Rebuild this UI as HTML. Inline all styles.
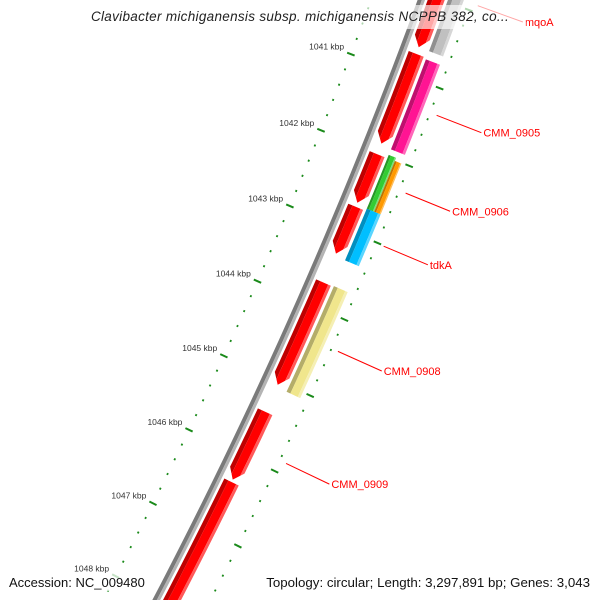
<!DOCTYPE html>
<html><head><meta charset="utf-8"><style>
html,body{margin:0;padding:0;background:#fff;overflow:hidden;width:600px;height:600px}
svg{display:block;overflow:hidden}
text{font-family:"Liberation Sans",sans-serif}
</style></head><body>
<svg id="map" width="600" height="600" viewBox="0 0 600 600" xmlns="http://www.w3.org/2000/svg">
<g id="ruler"></g>
<g id="backbone"></g>
<g id="features"></g>
<g id="labels"></g>
<rect x="74" y="5" width="452" height="24" fill="#fff" opacity="0.65"/>
<text x="300" y="21" text-anchor="middle" font-size="13.5" font-style="italic" fill="#222" letter-spacing="0.3">Clavibacter michiganensis subsp. michiganensis NCPPB 382, co...</text>
<rect x="6" y="573" width="141" height="18" fill="#fff" opacity="0.75"/>
<rect x="259" y="573" width="335" height="18" fill="#fff" opacity="0.75"/>
<text x="9" y="587" font-size="13" fill="#111">Accession: NC_009480</text>
<text x="590" y="587" text-anchor="end" font-size="13.3" fill="#111">Topology: circular; Length: 3,297,891 bp; Genes: 3,043</text>
</svg>
<script>
// ---- data ----
const featNames = ["gene-1","gene-2","gene-3","gene-4","gene-5","CMM_0909","gene-7","mqoA","CMM_0905","CMM_0906-a","CMM_0906-b","tdkA","CMM_0908"];
const featStartKbp = [1039.0,1040.715,1042.014,1042.70,1043.694,1045.405,1046.345,1039.2,1040.736,1041.97,1042.01,1042.67,1043.683];
const featEndKbp   = [1040.63,1041.877,1042.648,1043.313,1045.046,1046.313,1050.0,1040.63,1041.898,1042.67,1042.67,1043.345,1045.078];
const featRing     = [1,1,1,1,1,1,1,2,2,2,2,2,2];
const featColor    = ["#ff0000","#ff0000","#ff0000","#ff0000","#ff0000","#ff0000","#ff0000","#c0c0c0","#ff1493","#33cc33","#ff9900","#00bfff","#f0e68c"];
const labelText    = ["mqoA","CMM_0905","CMM_0906","tdkA","CMM_0908","CMM_0909"];
const labelFeature = [7,8,9,11,12,5];
const tickKbp      = [1040,1041,1042,1043,1044,1045,1046,1047,1048,1049];
const tickLabels   = ["1040 kbp","1041 kbp","1042 kbp","1043 kbp","1044 kbp","1045 kbp","1046 kbp","1047 kbp","1048 kbp","1049 kbp"];

// ---- geometry ----
const CX=-4275, CY=-1716, R=5000;
const A0=20.94, DEG_PER_KBP=0.9467;
function ang(kbp){return (A0+(kbp-1041)*DEG_PER_KBP)*Math.PI/180;}
function pt(r,a){return [CX+r*Math.cos(a), CY+r*Math.sin(a)];}
const NS="http://www.w3.org/2000/svg";
function mk(tag,attrs,parent){const e=document.createElementNS(NS,tag);for(const k in attrs)e.setAttribute(k,attrs[k]);parent.appendChild(e);return e;}
function arcPts(r,a1,a2,n){const p=[];for(let i=0;i<=n;i++){p.push(pt(r,a1+(a2-a1)*i/n));}return p;}
function P(p){return p.map(q=>q[0].toFixed(2)+","+q[1].toFixed(2)).join(" ");}

// ruler
const ruler=document.getElementById('ruler');
const rIn=4953, rOut=5048;
for(let k=Math.round(1038*5);k<=Math.round(1051*5);k++){
  const kb=k/5, a=ang(kb), major=(k%5===0);
  const half=major?4:0.9;
  [rIn,rOut].forEach((rr,j)=>{
    const p1=pt(rr-half,a), p2=pt(rr+half,a);
    const l=mk('line',{x1:p1[0],y1:p1[1],x2:p2[0],y2:p2[1],stroke:'#1a8a1a','stroke-width':2},ruler);
    
    
  });
}
tickKbp.forEach((kb,i)=>{
  const p=pt(rIn-4,ang(kb));
  const t=mk('text',{x:p[0]-3,y:p[1]-3,'text-anchor':'end','font-size':'8.5',fill:'#333'},ruler);
  
  
  t.textContent=tickLabels[i];
});

// backbone
const bb=document.getElementById('backbone');
const ba1=ang(1038.5), ba2=ang(1049.5);
const b1=mk('polyline',{points:P(arcPts(R-1.5,ba1,ba2,40)),fill:'none',stroke:'#7a7a7a','stroke-width':4},bb);


const b2=mk('polyline',{points:P(arcPts(R+2,ba1,ba2,40)),fill:'none',stroke:'#b4b4b4','stroke-width':3},bb);



// features
function shade(hex,f){const n=parseInt(hex.slice(1),16);let r=n>>16,g=(n>>8)&255,b=n&255;
  if(f<1){r*=f;g*=f;b*=f;}else{r+= (255-r)*(f-1);g+=(255-g)*(f-1);b+=(255-b)*(f-1);}
  return "rgb("+Math.round(r)+","+Math.round(g)+","+Math.round(b)+")";}
const fg=document.getElementById('features');
const H=0.12*Math.PI/180;
featNames.forEach((nm,i)=>{
  let rA,rB;
  if(featRing[i]===1){rA=R+6;rB=R+22;}
  else{rA=R+25;rB=R+40;}
  if(i===9){rB=R+33;} if(i===10){rA=R+33;}
  const arrow=featRing[i]===1;
  const rc=(rA+rB)/2, hw=(rB-rA)/2;
  const a1=ang(featStartKbp[i]), a2=ang(featEndKbp[i]);
  const g=mk('g',{},fg);
  
  
  const bands=[[rA,rA+(rB-rA)*0.28,0.75],[rA+(rB-rA)*0.28,rB-(rB-rA)*0.18,1],[rB-(rB-rA)*0.18,rB,1.35]];
  bands.forEach(b=>{
    const endAt=r=>arrow? a2-H*Math.abs(r-rc)/hw : a2;
    const inner=arcPts(b[0],a1,endAt(b[0]),12);
    const outer=arcPts(b[1],a1,endAt(b[1]),12).reverse();
    let pts=inner;
    if(arrow && b[0]<rc && b[1]>rc) pts=pts.concat([pt(rc,a2)]);
    pts=pts.concat(outer);
    const pg=mk('polygon',{points:P(pts),fill:shade(featColor[i],b[2])},g);
    
    
  });
});

// labels
const lg=document.getElementById('labels');
labelText.forEach((txt,i)=>{
  const fi=labelFeature[i];
  const a=(ang(featStartKbp[fi])+ang(featEndKbp[fi]))/2;
  const p1=pt(5055,a), p2=pt(5103,a);
  const l=mk('line',{x1:p1[0],y1:p1[1],x2:p2[0],y2:p2[1],stroke:'#ff0000','stroke-width':1},lg);
  
  
  const t=mk('text',{x:p2[0]+2,y:p2[1]+4,'font-size':'11',fill:'#ff0000'},lg);
  
  
  t.textContent=txt;
});
</script>
</body></html>
